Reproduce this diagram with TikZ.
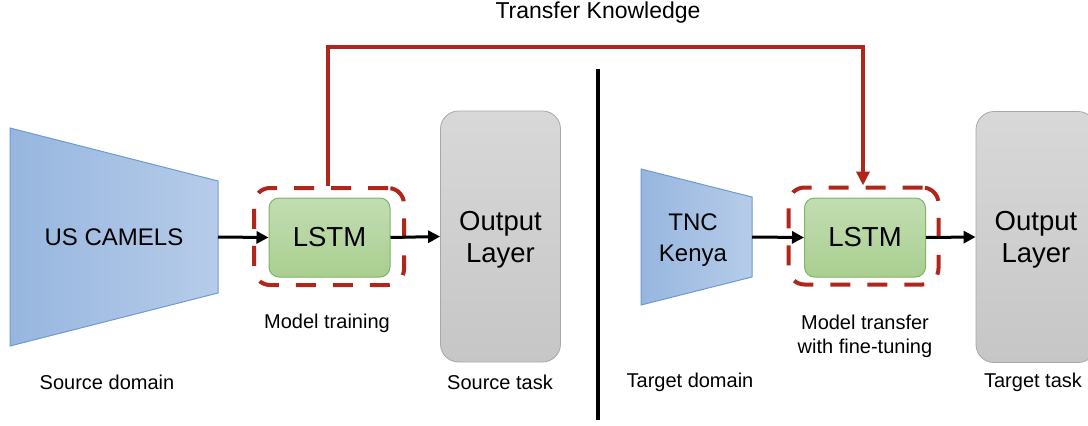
\documentclass[tikz,border=0pt]{standalone}
\usepackage{fontspec}
\setmainfont{Liberation Sans}
\usetikzlibrary{arrows.meta}
\definecolor{tred}{HTML}{B0261B}
\definecolor{bfillL}{HTML}{97B6DF}
\definecolor{bfillR}{HTML}{B6CCE9}
\definecolor{bline}{HTML}{6C9BD2}
\definecolor{gfillT}{HTML}{C2DDB3}
\definecolor{gfillB}{HTML}{A9CF8F}
\definecolor{gline}{HTML}{82B366}
\definecolor{grT}{HTML}{D8D8D8}
\definecolor{grB}{HTML}{C6C6C6}
\definecolor{grline}{HTML}{A8A8A8}
\begin{document}
\begin{tikzpicture}[x=1pt,y=1pt,
 lstmbox/.style={draw=gline, line width=1pt, top color=gfillT, bottom color=gfillB, rounded corners=10pt, minimum width=121pt, minimum height=79pt, inner sep=0pt, font=\fontsize{27.5}{30}\selectfont},
 dashbox/.style={draw=tred, line width=4pt, dash pattern=on 20pt off 17pt, rounded corners=16pt, minimum width=150pt, minimum height=97pt, inner sep=0pt},
 outbox/.style={draw=grline, line width=0.8pt, top color=grT, bottom color=grB, rounded corners=18pt, minimum width=120pt, minimum height=251pt, inner sep=0pt, align=center, font=\fontsize{27.5}{32}\selectfont},
 trap/.style={draw=bline, line width=1pt, left color=bfillL, right color=bfillR},
 lab/.style={font=\fontsize{20}{24}\selectfont, inner sep=0pt, align=center},
 domtext/.style={font=\fontsize{24}{31}\selectfont, inner sep=0pt, align=center},
 arr/.style={line width=3pt, -{Triangle[length=12pt,width=12pt]}},
 redline/.style={draw=tred, line width=4pt},
]
\useasboundingbox (0,0) rectangle (1088,-426);

% source domain trapezoid
\draw[trap] (10,-128) -- (218,-181) -- (218,-293) -- (10,-346) -- cycle;
\coordinate (usr) at (218,-237);
\node[domtext] (us) at (114,-237) {US CAMELS};

% target domain trapezoid
\draw[trap] (641,-169) -- (752,-197) -- (752,-277) -- (641,-305) -- cycle;
\coordinate (tncr) at (752,-237);
\node[domtext] (tnc) at (693,-240) {TNC\\Kenya};

% dashed boxes
\node[dashbox] (d1) at (329,-236.5) {};
\node[dashbox] (d2) at (863.5,-236) {};

% LSTM boxes
\node[lstmbox] (l1) at (329.5,-237.5) {LSTM};
\node[lstmbox] (l2) at (865,-237.5) {LSTM};

% output layers
\node[outbox] (o1) at (500.5,-236.5) {};
\node[outbox] (o2) at (1036,-237) {};
\node[outbox, draw=none, fill=none, shade=false, minimum height=0pt] (o1t) at (500.5,-240) {Output\\Layer};
\node[outbox, draw=none, fill=none, shade=false, minimum height=0pt] (o2t) at (1036,-240) {Output\\Layer};

% arrows
\draw[arr] (usr) -- (l1.west);
\draw[arr] (l1.east) -- (o1.west);
\draw[arr] (tncr) -- (l2.west);
\draw[arr] (l2.east) -- (o2.west);

% divider
\coordinate (divt) at (598,-69);
\coordinate (divb) at (598,-420);
\draw[line width=4pt] (divt) -- (divb);

% transfer knowledge connector
\coordinate (k1) at (328,-47);
\coordinate (k2) at (863,-47);
\draw[redline, -{Triangle[length=14pt,width=13pt]}] (d1.north -| k1) -- (k1) -- (k2) -- (d2.north -| k2);
\node[lab, font=\fontsize{23}{27}\selectfont] (tk) at (598,-13) {Transfer Knowledge};

% labels
\node[lab] (sd) at (107,-382) {Source domain};
\node[lab] (mt) at (327,-323) {Model training};
\node[lab] (st) at (500,-382) {Source task};
\node[lab] (td) at (690,-382) {Target domain};
\node[lab] (mf) at (865,-336) {Model transfer\\with fine-tuning};
\node[lab] (tt) at (1033,-382) {Target task};
\end{tikzpicture}
\end{document}
